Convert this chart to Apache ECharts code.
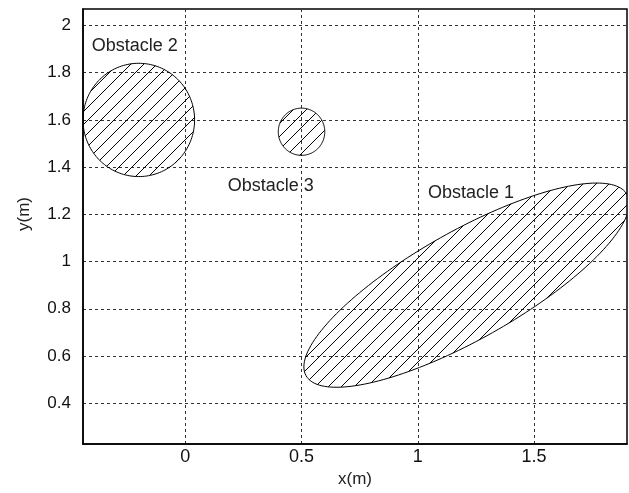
<!DOCTYPE html>
<html><head><meta charset="utf-8">
<script src="https://cdn.jsdelivr.net/npm/echarts@6/dist/echarts.min.js"></script>
<style>html,body{margin:0;padding:0;background:#fff}#chart{width:629px;height:493px}</style>
</head><body><div id="chart"></div>
<script>
const xTicks = [0, 0.5, 1, 1.5];
const yTicks = [0.4, 0.6, 0.8, 1, 1.2, 1.4, 1.6, 1.8, 2];
const obstacleNames = ['Obstacle 1', 'Obstacle 2', 'Obstacle 3'];
const obstacleCx = [1.21, -0.2, 0.5];
const obstacleCy = [0.9, 1.6, 1.55];
const obstacleA = [0.79, 0.24, 0.1];
const obstacleB = [0.23, 0.24, 0.1];
const obstacleAngleDeg = [29, 0, 0];
const labelX = [1.229, -0.217, 0.368];
const labelY = [1.292, 1.912, 1.322];

const FONT = "'Liberation Sans', Arial, Helvetica, sans-serif";
const shapeData = obstacleNames.map((n, i) => [obstacleCx[i], obstacleCy[i], obstacleA[i], obstacleB[i], obstacleAngleDeg[i]]);
const labelData = obstacleNames.map((n, i) => [labelX[i], labelY[i], n]);

const HATCH = 13;
function renderObstacle(params, api) {
  const cx = api.value(0), cy = api.value(1), a = api.value(2), b = api.value(3);
  const ang = api.value(4) * Math.PI / 180;
  const N = 180;
  const pts = [];
  for (let k = 0; k < N; k++) {
    const t = 2 * Math.PI * k / N;
    const ex = a * Math.cos(t), ey = b * Math.sin(t);
    const x = cx + ex * Math.cos(ang) - ey * Math.sin(ang);
    const y = cy + ex * Math.sin(ang) + ey * Math.cos(ang);
    pts.push(api.coord([x, y]));
  }
  const s = pts.map(p => p[0] + p[1]);
  const smin = Math.min.apply(null, s), smax = Math.max.apply(null, s);
  const children = [];
  for (let c = Math.ceil(smin / HATCH) * HATCH; c < smax; c += HATCH) {
    const hits = [];
    for (let k = 0; k < N; k++) {
      const k2 = (k + 1) % N;
      const f1 = s[k] - c, f2 = s[k2] - c;
      if ((f1 <= 0 && f2 > 0) || (f1 > 0 && f2 <= 0)) {
        const t = f1 / (f1 - f2);
        const p1 = pts[k], p2 = pts[k2];
        hits.push([p1[0] + t * (p2[0] - p1[0]), p1[1] + t * (p2[1] - p1[1])]);
      }
    }
    if (hits.length >= 2) {
      children.push({type: 'line', shape: {x1: hits[0][0], y1: hits[0][1], x2: hits[1][0], y2: hits[1][1]},
        style: {stroke: '#000', lineWidth: 1}});
    }
  }
  children.push({type: 'polygon', shape: {points: pts}, style: {fill: 'none', stroke: '#000', lineWidth: 1}});
  return {type: 'group', children: children};
}
function renderLabel(params, api) {
  const p = api.coord([api.value(0), api.value(1)]);
  return {type: 'text', x: p[0], y: p[1],
    style: {text: labelData[params.dataIndex][2], fill: '#222', fontSize: 18, fontFamily: FONT,
      align: 'center', verticalAlign: 'middle'}};
}

const chart = echarts.init(document.getElementById('chart'), null, {renderer: 'canvas'});
chart.setOption({
  animation: false,
  backgroundColor: '#fff',
  grid: {left: 83, right: 2, top: 9, bottom: 44, show: true, borderColor: '#000', borderWidth: 1.5, containLabel: false},
  xAxis: {
    type: 'value', min: -0.44, max: 1.9,
    name: 'x(m)', nameLocation: 'middle', nameGap: 27,
    nameTextStyle: {color: '#222', fontSize: 17, fontFamily: FONT},
    axisLine: {show: true, onZero: false, lineStyle: {color: '#000', width: 1.5}},
    axisTick: {show: false, customValues: xTicks},
    axisLabel: {customValues: xTicks, margin: 4, color: '#111', fontSize: 18, fontFamily: FONT},
    splitLine: {show: true, lineStyle: {color: '#333', width: 1, type: [3, 3]}}
  },
  yAxis: {
    type: 'value', min: 0.227, max: 2.07,
    name: 'y(m)', nameLocation: 'middle', nameGap: 50,
    nameTextStyle: {color: '#222', fontSize: 17, fontFamily: FONT, padding: [0, 0, 0, 25]},
    axisLine: {show: true, onZero: false, lineStyle: {color: '#000', width: 1.5}},
    axisTick: {show: false, customValues: yTicks},
    axisLabel: {customValues: yTicks, margin: 12, color: '#111', fontSize: 17, fontFamily: FONT},
    splitLine: {show: true, lineStyle: {color: '#333', width: 1, type: [3, 3]}}
  },
  series: [
    {type: 'custom', name: 'obstacles', clip: true, data: shapeData, encode: {x: 0, y: 1}, renderItem: renderObstacle, z: 3},
    {type: 'custom', name: 'labels', clip: false, data: labelData, encode: {x: 0, y: 1}, renderItem: renderLabel, z: 4}
  ]
});
</script>
</body></html>
